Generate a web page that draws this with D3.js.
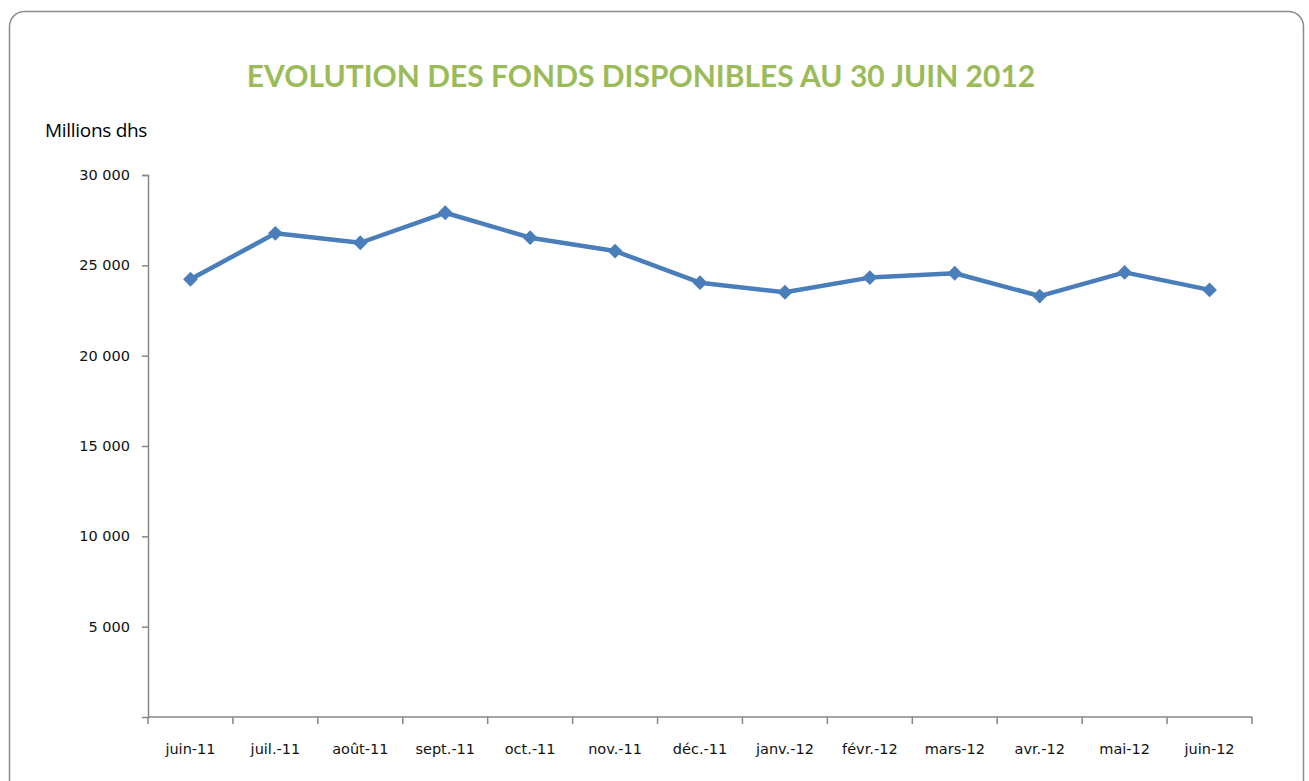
<!DOCTYPE html>
<html>
  <head>
    <meta charset="utf-8">
    <title>Evolution des fonds disponibles</title>
    <script src="https://d3js.org/d3.v7.min.js"></script>
    <style>
      body { margin: 0; background: #fff; }
    </style>
  </head>

  <body>
    <svg width="1309" height="781"></svg>

    <script type="text/javascript">
      // data
      var months = ["juin-11", "juil.-11", "août-11", "sept.-11", "oct.-11", "nov.-11",
        "déc.-11", "janv.-12", "févr.-12", "mars-12", "avr.-12", "mai-12", "juin-12"];
      var fonds = [24230, 26770, 26250, 27910, 26530, 25790,
        24040, 23510, 24320, 24560, 23300, 24610, 23640];
      var yTicks = [5000, 10000, 15000, 20000, 25000, 30000];

      var svg = d3.select("svg");

      // outer frame
      svg.append("rect")
        .attr("x", 9.5)
        .attr("y", 11.5)
        .attr("width", 1294)
        .attr("height", 800)
        .attr("rx", 15)
        .attr("fill", "#fff")
        .attr("stroke", "#8c8c8c")
        .attr("stroke-width", 1.5);

      // title
      svg.append("text")
        .attr("x", 641)
        .attr("y", 87)
        .attr("text-anchor", "middle")
        .style("font-family", "Lato, 'Open Sans', sans-serif")
        .style("font-weight", "bold")
        .style("font-size", "30px")
        .style("fill", "#9bbb59")
        .text("EVOLUTION DES FONDS DISPONIBLES AU 30 JUIN 2012");

      svg.append("text")
        .attr("x", 45)
        .attr("y", 137)
        .style("font-family", "'Open Sans', sans-serif")
        .style("font-size", "19px")
        .style("letter-spacing", "-0.3px")
        .style("fill", "#000")
        .text("Millions dhs");

      var xScale = d3.scaleBand().domain(months).range([148, 1252]);
      var yScale = d3.scaleLinear().domain([0, 30000]).range([717, 175]);

      var fmt = function (v) { return d3.format(",")(v).replace(/,/g, " "); };

      // y axis
      var yAxis = svg.append("g")
        .attr("transform", "translate(148,0)")
        .call(d3.axisLeft(yScale).tickValues(yTicks).tickSize(6).tickPadding(12).tickFormat(fmt));
      yAxis.select(".domain").attr("stroke", "#868686").attr("stroke-width", 1.5);
      yAxis.selectAll(".tick line").attr("stroke", "#868686").attr("stroke-width", 1.5);
      yAxis.selectAll(".tick text")
        .style("font-family", "'DejaVu Sans', sans-serif")
        .style("font-size", "14.5px")
        .style("fill", "#111");

      // x axis: labels centered, ticks on band edges
      var xAxis = svg.append("g")
        .attr("transform", "translate(0,717)")
        .call(d3.axisBottom(xScale).tickSize(0).tickPadding(27));
      xAxis.select(".domain").remove();
      xAxis.selectAll(".tick text")
        .style("font-family", "'DejaVu Sans', sans-serif")
        .style("font-size", "14.5px")
        .style("fill", "#111");

      svg.append("line")
        .attr("x1", xScale.range()[0])
        .attr("x2", xScale.range()[1])
        .attr("y1", 717)
        .attr("y2", 717)
        .attr("stroke", "#868686")
        .attr("stroke-width", 1.5);

      var edges = months.map(function (m) { return xScale(m); });
      edges.push(xScale.range()[1]);
      svg.append("g")
        .selectAll("line")
        .data(edges)
        .enter()
        .append("line")
        .attr("x1", function (d) { return d; })
        .attr("x2", function (d) { return d; })
        .attr("y1", 717)
        .attr("y2", 724)
        .attr("stroke", "#868686")
        .attr("stroke-width", 1.5);

      // the line
      var cx = function (d, i) { return xScale(months[i]) + xScale.bandwidth() / 2; };
      var lineGenerator = d3.line()
        .x(cx)
        .y(function (d) { return yScale(d); });

      svg.append("path")
        .attr("fill", "none")
        .attr("stroke", "#4a7ebb")
        .attr("stroke-width", 4.5)
        .attr("stroke-linejoin", "round")
        .attr("d", lineGenerator(fonds));

      // diamond markers
      svg.append("g")
        .selectAll("path")
        .data(fonds)
        .enter()
        .append("path")
        .attr("d", d3.symbol().type(d3.symbolDiamond2).size(140))
        .attr("transform", function (d, i) {
          return "translate(" + cx(d, i) + "," + yScale(d) + ")";
        })
        .attr("fill", "#4a7ebb");
    </script>
  </body>
</html>
